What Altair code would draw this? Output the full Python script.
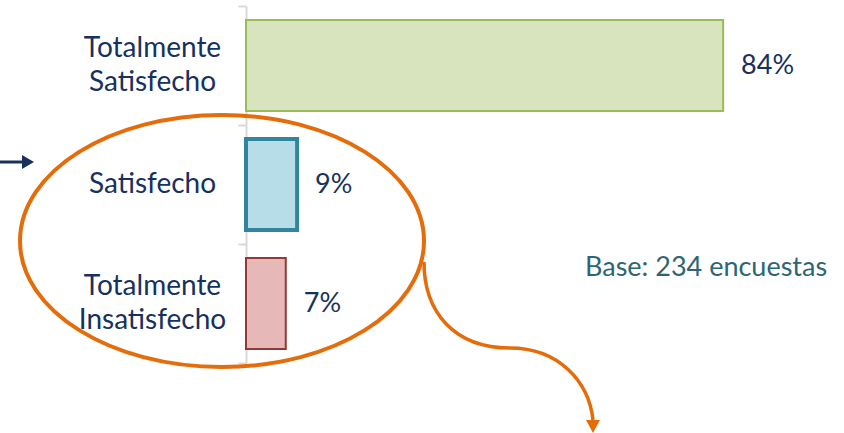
import altair as alt
import pandas as pd

categories = ["Totalmente Satisfecho", "Satisfecho", "Totalmente Insatisfecho"]
values = [84, 9, 7]
labels = ["84%", "9%", "7%"]
fills = ["#d7e4bd", "#b7dee8", "#e6b9b8"]
strokes = ["#9bbb59", "#31859c", "#953735"]
stroke_widths = [2, 4, 2]
base_note = ["Base: 234 encuestas"]

df = pd.DataFrame({"cat": categories, "val": values, "lab": labels,
                   "fill": fills, "stroke": strokes, "sw": stroke_widths})

FONT = "Lato"
NAVY = "#17315f"
ORANGE = "#e46c0a"
SP = chr(0x200B)

# two-word labels -> word, spacer, word (line height 17) ; single word -> spacer, word
label_expr = ("indexof(datum.label, ' ') > 0 ? "
              f"[split(datum.label, ' ')[0], '{SP}', split(datum.label, ' ')[1]] : "
              f"['{SP}', datum.label]")

y_enc = alt.Y("cat:N", sort=categories, title=None,
              scale=alt.Scale(paddingInner=0, paddingOuter=0),
              axis=alt.Axis(domainColor="#d9d9d9", domainWidth=2, tickColor="#d9d9d9",
                            tickWidth=2, tickSize=8, tickBand="extent",
                            labelExpr=label_expr,
                            labelFont=FONT, labelFontSize=28, labelColor=NAVY,
                            labelAlign="center", labelPadding=86, labelLineHeight=17,
                            labelOffset=-17,
                            labelBaseline="middle", labelLimit=300))
x_enc = alt.X("val:Q", scale=alt.Scale(domain=[0, 100]), axis=None)

bars = alt.Chart(df).mark_bar(height=alt.RelativeBandSize(0.765)).encode(
    x=x_enc, y=y_enc,
    fill=alt.Fill("fill:N", scale=None),
    stroke=alt.Stroke("stroke:N", scale=None),
    strokeWidth=alt.StrokeWidth("sw:Q", scale=None),
)

texts = alt.Chart(df).mark_text(align="left", baseline="middle", dx=18,
                                font=FONT, fontSize=27, color=NAVY).encode(
    x=x_enc, y=alt.Y("cat:N", sort=categories), text="lab:N")

note = alt.Chart(pd.DataFrame({"t": base_note})).mark_text(
    align="left", baseline="middle", font=FONT, fontSize=27, color="#2c6675").encode(
    x=alt.value(339), y=alt.value(262), text="t:N")

# annotations: ellipse, curved arrow, small left arrow
ann = pd.DataFrame({"k": [0]})
ellipse = alt.Chart(ann).mark_point(
    shape="M -202 0 A 202 126 0 1 0 202 0 A 202 126 0 1 0 -202 0",
    filled=False, color=ORANGE, strokeWidth=4, opacity=1).encode(
    x=alt.value(-24), y=alt.value(235), size=alt.value(4))

curve = alt.Chart(ann).mark_point(
    shape="M 0 0 C 0 50 30 86 86 86 C 135 86 165 120 169 158",
    filled=False, color=ORANGE, strokeWidth=3.5, opacity=1).encode(
    x=alt.value(178), y=alt.value(256), size=alt.value(4))

head = alt.Chart(ann).mark_point(
    shape="M -7 0 L 7 0 L 0 13 Z",
    filled=True, color=ORANGE, opacity=1).encode(
    x=alt.value(347), y=alt.value(414), size=alt.value(4))

left_line = alt.Chart(ann).mark_point(
    shape="M 0 0 L 24 0",
    filled=False, color=NAVY, strokeWidth=3, opacity=1).encode(
    x=alt.value(-246), y=alt.value(156), size=alt.value(4))

left_head = alt.Chart(ann).mark_point(
    shape="M 0 -7 L 12 0 L 0 7 Z",
    filled=True, color=NAVY, opacity=1).encode(
    x=alt.value(-224), y=alt.value(156), size=alt.value(4))

chart = alt.layer(bars, texts, note, ellipse, curve, head, left_line, left_head).properties(
    width=568, height=357,
    autosize=alt.AutoSizeParams(type="none"),
    padding={"left": 246, "top": 6, "right": 30, "bottom": 70},
).configure(background="white").configure_view(stroke=None, strokeWidth=0)

chart.save("out.html", embed_options={"renderer": "svg", "actions": False})
